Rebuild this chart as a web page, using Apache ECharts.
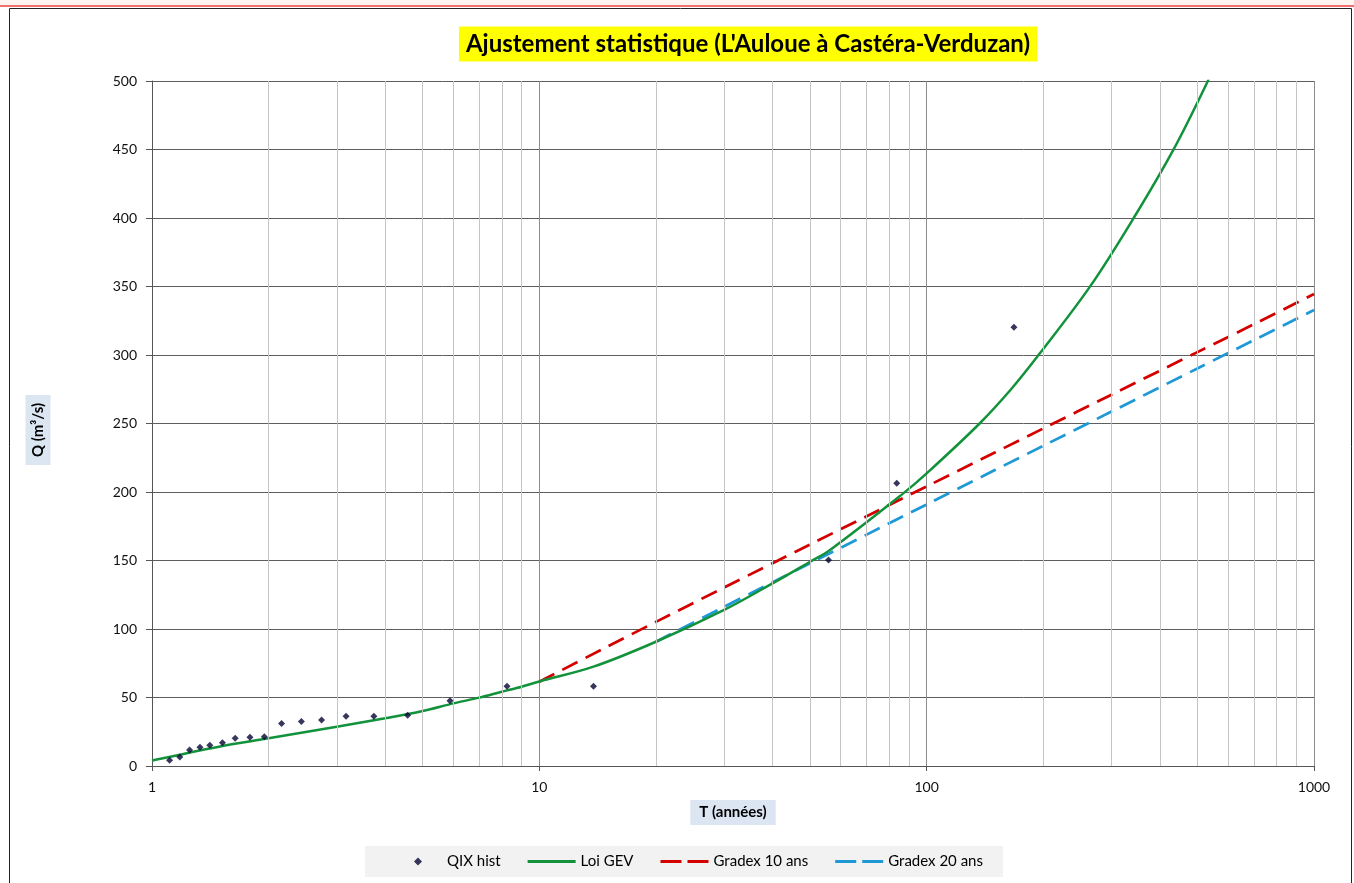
<!DOCTYPE html>
<html>
<head>
<meta charset="utf-8">
<script src="https://cdn.jsdelivr.net/npm/echarts@6/dist/echarts.min.js"></script>
<style>
html,body{margin:0;padding:0;background:#fff;}
#chart{width:1354px;height:883px;}
</style>
</head>
<body>
<div id="chart"></div>
<script>
// ---- Data ----
const titleText = "Ajustement statistique (L'Auloue à Castéra-Verduzan)";
const xName = "T (années)";
const yName = "Q (m³/s)";
const seriesNames = ["QIX hist", "Loi GEV", "Gradex 10 ans", "Gradex 20 ans"];

// Observed floods (return period T, discharge Q)
const qixT = [1.11, 1.18, 1.25, 1.33, 1.41, 1.52, 1.64, 1.79, 1.95, 2.16, 2.43, 2.74, 3.17, 3.74, 4.57, 5.88, 8.25, 13.8, 55.8, 83.7, 168];
const qixQ = [4.2, 6.6, 11.7, 13.6, 15.1, 17.0, 20.2, 20.9, 21.4, 31.1, 32.4, 33.6, 36.3, 36.3, 37.0, 47.7, 58.2, 58.2, 150.4, 206.3, 320.2];

// GEV fitted curve
const gevT = [1, 1.5, 2, 3, 4, 5, 6, 7, 8, 9, 10, 13.8, 20, 30, 40, 50, 56.3, 87, 100, 137, 166, 196, 264, 342, 434, 531, 545];
const gevQ = [4.0, 14.3, 20.2, 28.7, 34.8, 40.1, 45.7, 49.9, 54.2, 57.9, 61.7, 72.5, 90.7, 113.9, 133.3, 149.1, 157.7, 199.0, 213.6, 250.0, 275.7, 301.2, 349.9, 399.8, 450.1, 499.5, 508];

// Gradex 10 ans
const g10T = [10, 15, 20, 30, 50, 70, 100, 150, 200, 300, 500, 700, 1000];
const g10Q = [61.5, 87.2, 105.2, 130.3, 161.7, 182.3, 204.1, 228.8, 246.4, 271.0, 302.1, 322.5, 344.5];

// Gradex 20 ans
const g20T = [20, 30, 50, 70, 100, 150, 200, 300, 500, 700, 1000];
const g20Q = [90.7, 116.2, 148.0, 168.9, 190.9, 216.0, 233.7, 258.7, 290.2, 310.9, 332.8];

// Axis ticks
const xMinorTicks = [2, 3, 4, 5, 6, 7, 8, 9, 20, 30, 40, 50, 60, 70, 80, 90, 200, 300, 400, 500, 600, 700, 800, 900];
const yMin = 0, yMax = 500, yStep = 50;

// ---- Chart ----
const zip = (a, b) => a.map((v, i) => [v, b[i]]);
const FONT = 'Lato, "Liberation Sans", sans-serif';
const C_PTS = '#050535', C_GEV = '#12923a', C_G10 = '#d40000', C_G20 = '#1f98d6';
const ICON_SOLID = 'path://M0,0h48v3H0z';
const ICON_DASH = 'path://M0,0h21v3H0zM27,0h21v3H27z';
const ICON_DIAMOND = 'path://M5,0L10,5L5,10L0,5z';

const chart = echarts.init(document.getElementById('chart'), null, {renderer: 'canvas'});
chart.setOption({
  animation: false,
  backgroundColor: '#ffffff',
  textStyle: {fontFamily: FONT},
  graphic: [
    {type: 'rect', shape: {x: 0, y: 0, width: 1354, height: 6}, style: {fill: '#fff5f0'}, silent: true, z: -10},
    {type: 'rect', shape: {x: 0, y: 5, width: 1354, height: 2}, style: {fill: '#f07070'}, silent: true, z: -9},
    {type: 'rect', shape: {x: 9.5, y: 8.5, width: 1342, height: 900}, style: {fill: null, stroke: '#222', lineWidth: 1}, silent: true, z: -8},
    {type: 'text', x: 748, y: 44, silent: true, z: 10,
      style: {text: titleText, fill: '#000', fontFamily: FONT, fontWeight: 'bold', fontSize: 24,
        backgroundColor: '#ffff00', padding: [6, 7, 5, 7], align: 'center', verticalAlign: 'middle'}},
    {type: 'text', x: 38, y: 430, rotation: Math.PI / 2, silent: true, z: 10,
      style: {text: yName, fill: '#000', fontFamily: FONT, fontWeight: 'bold', fontSize: 15,
        backgroundColor: '#dce6f2', padding: [5, 8, 5, 8], align: 'center', verticalAlign: 'middle'}}
  ],
  grid: {left: 152, right: 40, top: 81, bottom: 117, containLabel: false, outerBoundsMode: 'none'},
  legend: {
    data: [
      {name: seriesNames[0], icon: ICON_DIAMOND, itemStyle: {color: C_PTS, borderWidth: 0}},
      {name: seriesNames[1], icon: ICON_SOLID, itemStyle: {color: C_GEV, borderWidth: 0}, lineStyle: {width: 0}},
      {name: seriesNames[2], icon: ICON_DASH, itemStyle: {color: C_G10, borderWidth: 0}, lineStyle: {width: 0}},
      {name: seriesNames[3], icon: ICON_DASH, itemStyle: {color: C_G20, borderWidth: 0}, lineStyle: {width: 0}}
    ],
    left: 365, top: 846,
    orient: 'horizontal',
    backgroundColor: '#f2f2f2',
    padding: [8, 20, 8, 49],
    itemGap: 27, itemWidth: 48, itemHeight: 8,
    symbolKeepAspect: true,
    textStyle: {fontFamily: FONT, fontSize: 15, color: '#000'},
    selectedMode: false
  },
  xAxis: {
    type: 'log', logBase: 10, min: 1, max: 1000,
    name: xName, nameLocation: 'middle', nameGap: 34,
    nameTextStyle: {fontFamily: FONT, fontWeight: 'bold', fontSize: 15, color: '#000',
      backgroundColor: '#dce6f2', padding: [5, 9, 5, 9], verticalAlign: 'top'},
    axisLine: {show: true, onZero: false, lineStyle: {color: '#555', width: 1}},
    axisTick: {show: true, inside: false, length: 5, lineStyle: {color: '#555'}},
    axisLabel: {show: true, margin: 14, fontFamily: FONT, fontSize: 14, color: '#111',
      formatter: v => String(Math.round(v))},
    splitLine: {show: true, lineStyle: {color: '#8c8c8c', width: 1}},
    minorTick: {show: false}, minorSplitLine: {show: false}
  },
  yAxis: {
    type: 'value', min: yMin, max: yMax, interval: yStep,
    axisLine: {show: true, lineStyle: {color: '#555', width: 1}},
    axisTick: {show: true, inside: false, length: 6, lineStyle: {color: '#555'}},
    axisLabel: {show: true, margin: 15, fontFamily: FONT, fontSize: 14, color: '#111'},
    splitLine: {show: true, lineStyle: {color: '#5e5e5e', width: 1}}
  },
  series: [
    {
      name: '_minorGrid', type: 'line', data: [], z: 1, silent: true,
      markLine: {
        silent: true, symbol: ['none', 'none'], animation: false,
        label: {show: false},
        lineStyle: {color: '#c4c4c4', width: 1, type: 'solid'},
        emphasis: {disabled: true},
        data: xMinorTicks.map(v => ({xAxis: v}))
      }
    },
    {
      name: seriesNames[2], type: 'line', z: 3, data: zip(g10T, g10Q),
      showSymbol: false, symbol: 'none', smooth: 0.3,
      lineStyle: {color: C_G10, width: 2.75, type: [17, 9]},
      itemStyle: {color: C_G10}
    },
    {
      name: seriesNames[3], type: 'line', z: 3, data: zip(g20T, g20Q),
      showSymbol: false, symbol: 'none', smooth: 0.3,
      lineStyle: {color: C_G20, width: 2.75, type: [17, 9]},
      itemStyle: {color: C_G20}
    },
    {
      name: seriesNames[1], type: 'line', z: 4, data: zip(gevT, gevQ),
      showSymbol: false, symbol: 'none', smooth: 0.35,
      lineStyle: {color: C_GEV, width: 2.5},
      itemStyle: {color: C_GEV}
    },
    {
      name: seriesNames[0], type: 'scatter', z: 5, data: zip(qixT, qixQ),
      symbol: 'diamond', symbolSize: 7,
      itemStyle: {color: C_PTS}
    }
  ]
});
</script>
</body>
</html>
